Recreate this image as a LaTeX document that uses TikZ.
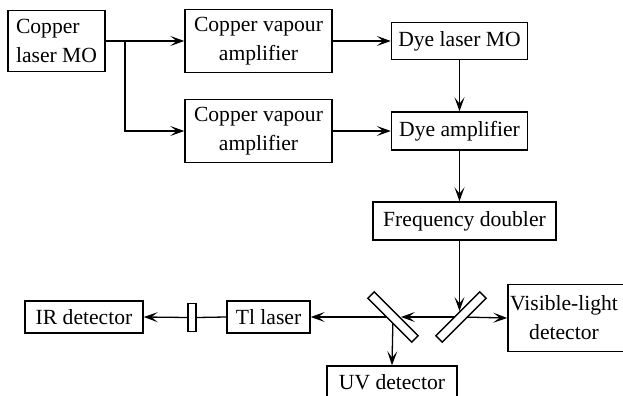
\documentclass[tikz,border=0pt]{standalone}
\usepackage{fontspec}
\setmainfont{Liberation Serif}
\newfontfamily\labfont{Liberation Serif}
\usetikzlibrary{arrows.meta,positioning,calc}
\tikzset{
  blk/.style={draw, line width=0.75pt, inner sep=0pt, align=center, font=\labfont\fontsize{10.8}{14.5}\selectfont},
  mirror/.style={draw, fill=white, line width=0.65pt, inner sep=0pt, minimum width=31pt, minimum height=4.5pt},
  filt/.style={draw, fill=white, line width=0.65pt, inner sep=0pt, minimum width=4pt, minimum height=14pt},
  arr/.style={-{Stealth[length=7pt,width=5pt,inset=3.2pt]}, line width=0.65pt},
  ln/.style={line width=0.65pt},
}
\begin{document}
\begin{tikzpicture}[x=0.5pt,y=-0.5pt]
  \useasboundingbox (0,0) rectangle (623,396);
  \clip (0,0) rectangle (623,396);
  % top row
  \node[blk, minimum width=48.5pt, minimum height=30.5pt, align=left] (cumo) at (56.5,41) {Copper\\laser MO};
  \node[blk, minimum width=73.5pt, minimum height=31.5pt] (cva1) at (258.5,41) {Copper vapour\\amplifier};
  \node[blk, minimum width=73.5pt, minimum height=31.5pt] (cva2) at (258.5,131) {Copper vapour\\amplifier};
  \node[blk, minimum width=68pt, minimum height=18.5pt] (dyemo) at (459.5,41) {Dye laser MO};
  \node[blk, minimum width=68pt, minimum height=19pt] (dyeamp) at (459.5,131) {Dye amplifier};
  \node[blk, minimum width=91.5pt, minimum height=19pt] (fdbl) at (464.5,221) {Frequency doubler};
  % detectors
  \node[blk, minimum width=60pt, minimum height=33.5pt] (vis) at (568,318) {\hspace*{-4pt}Visible-light\\\hspace*{-4pt}detector};
  \node[blk, minimum width=65pt, minimum height=16pt] (uv) at (392,382) {UV detector};
  \node[blk, minimum width=41.5pt, minimum height=16pt] (tl) at (268.5,317) {Tl laser};
  \node[blk, minimum width=59pt, minimum height=16pt] (ir) at (84,317) {IR detector};
  \node[filt] (win) at (192,317.5) {};
  \coordinate (br) at (125,41);
  \coordinate (mrc) at (461,317);
  \coordinate (mlc) at (393,317);
  \coordinate (mlhit) at (401,317);
  \coordinate (mrhit) at (459.5,311);
  % beams
  \draw[arr] (cumo.east) -- (cva1.west);
  \draw[arr] (br) |- (cva2.west);
  \draw[arr] (cva1.east) -- (dyemo.west);
  \draw[arr] (cva2.east) -- (dyeamp.west);
  \draw[arr] (dyemo.south) -- (dyeamp.north);
  \draw[arr] (dyeamp.south) -- (dyeamp.south |- fdbl.north);
  \draw[arr] (mrc) -- (vis.west);
  \draw[arr] (mrc) -- (mlhit);
  \draw[arr] (mlc) -- (tl.east);
  \draw[arr] (mlc) -- (uv.north);
  \draw[ln] (tl.west) -- (win.east);
  \draw[arr] (win.west) -- (ir.east);
  % mirrors
  \node[mirror, rotate=45] (mr) at (mrc) {};
  \node[mirror, rotate=-45] (ml) at (mlc) {};
  \draw[arr] (fdbl.south -| dyeamp.south) -- (mrhit);
\end{tikzpicture}
\end{document}
